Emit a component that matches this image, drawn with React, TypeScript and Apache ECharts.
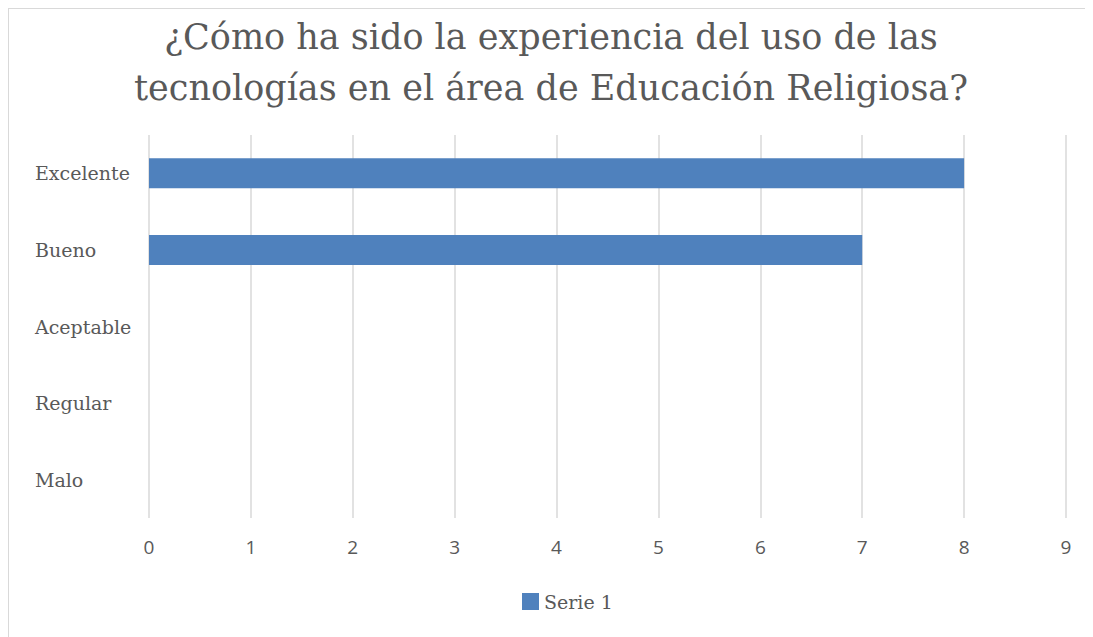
import React, { useEffect, useRef } from "react";
import * as echarts from "echarts";

const categories = ["Excelente", "Bueno", "Aceptable", "Regular", "Malo"];
const serie1 = [8, 7, 0, 0, 0];
const xTicks = { min: 0, max: 9, interval: 1 };
const titleLines = [
  "¿Cómo ha sido la experiencia del uso de las",
  "tecnologías en el área de Educación Religiosa?",
];

export default function App() {
  const ref = useRef<HTMLDivElement>(null);
  useEffect(() => {
    if (!ref.current) return;
    const chart = echarts.init(ref.current, null, { renderer: "svg" });
    chart.setOption({
      animation: false,
      title: {
        text: titleLines.join("\n"),
        left: "center",
        top: -3,
        textStyle: {
          fontFamily: "'DejaVu Serif', serif",
          fontSize: 35,
          fontWeight: "normal",
          color: "#595959",
          lineHeight: 51,
        },
      },
      legend: {
        data: ["Serie 1"],
        top: 578,
        left: 508,
        itemWidth: 17,
        itemHeight: 17,
        icon: "rect",
        itemGap: 10,
        textStyle: { fontFamily: "'DejaVu Serif', serif", fontSize: 19, color: "#595959" },
      },
      grid: { left: 140, right: 27, top: 126, bottom: 119, containLabel: false },
      xAxis: {
        type: "value",
        min: xTicks.min,
        max: xTicks.max,
        interval: xTicks.interval,
        axisLine: { show: false },
        axisTick: { show: false },
        splitLine: { show: true, lineStyle: { color: "#d9d9d9", width: 1.5 } },
        axisLabel: {
          margin: 19,
          fontFamily: "'Open Sans', sans-serif",
          fontSize: 19,
          color: "#595959",
        },
      },
      yAxis: {
        type: "category",
        data: categories,
        inverse: true,
        axisLine: { show: false },
        axisTick: { show: false },
        axisLabel: {
          align: "left",
          margin: 114,
          fontFamily: "'DejaVu Serif', serif",
          fontSize: 19,
          color: "#595959",
        },
      },
      series: [
        {
          name: "Serie 1",
          type: "bar",
          data: serie1,
          barWidth: 30,
          itemStyle: { color: "#4f81bd" },
        },
      ],
    });
    return () => chart.dispose();
  }, []);
  return (
    <div
      ref={ref}
      style={{
        width: 1084,
        height: 628,
        borderTop: "1px solid #d9d9d9",
        borderLeft: "1px solid #d9d9d9",
      }}
    />
  );
}
